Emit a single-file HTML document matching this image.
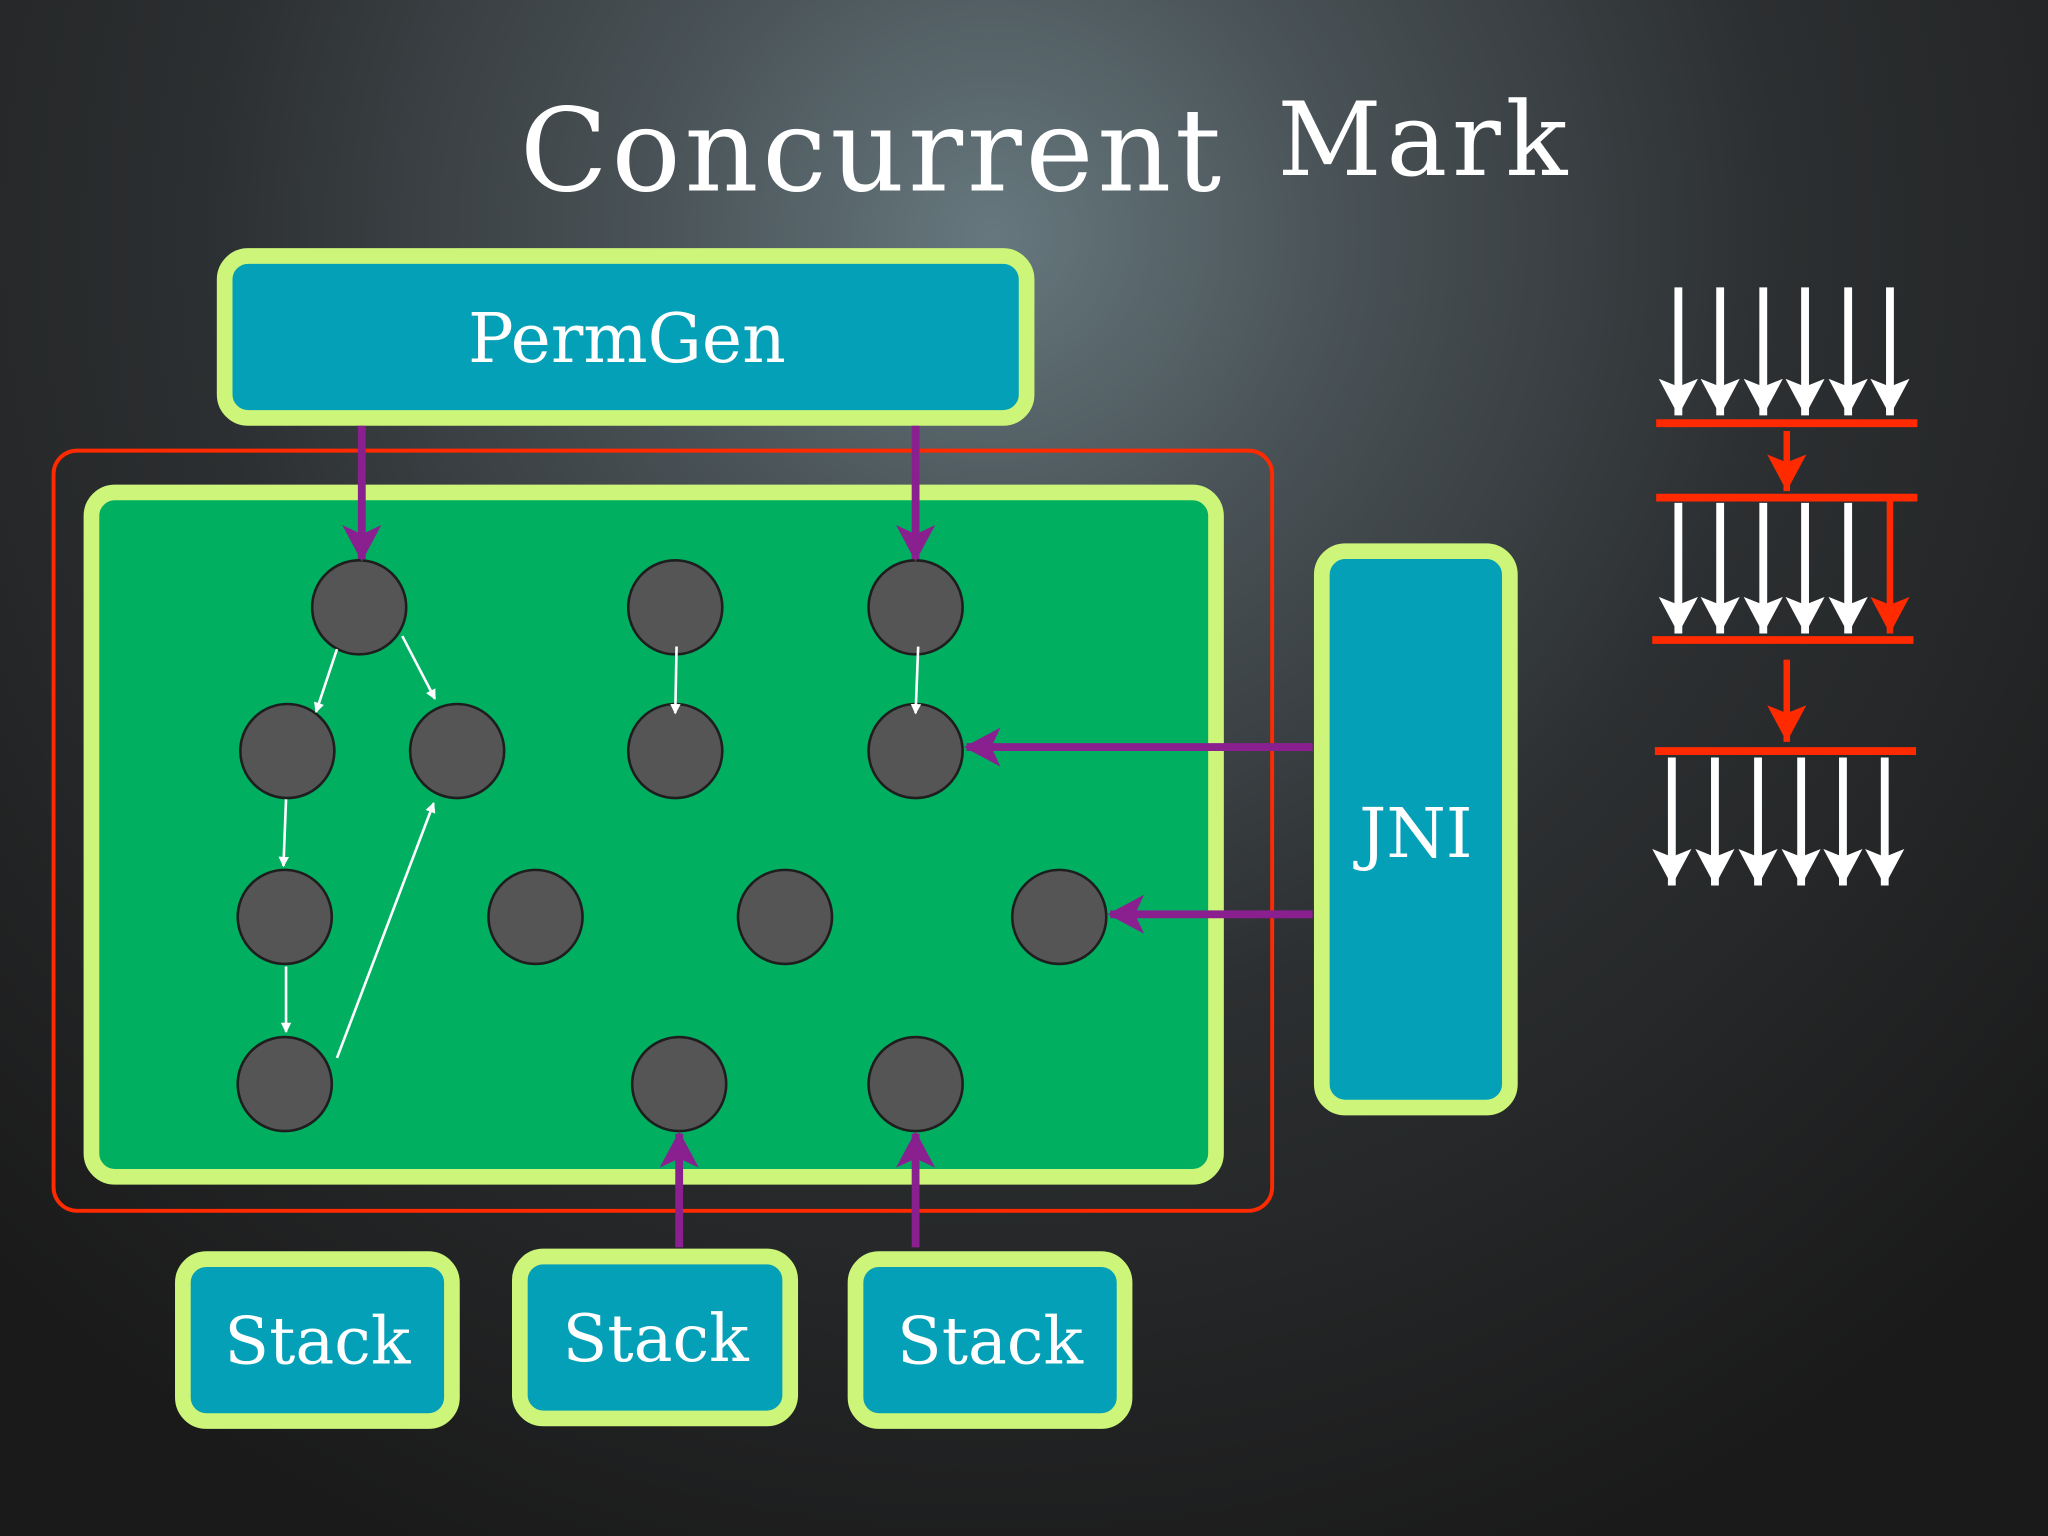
<!DOCTYPE html>
<html><head><meta charset="utf-8"><style>
html,body{margin:0;padding:0;background:#1a1a1a;}
svg{display:block;}
text{font-family:"DejaVu Serif","Liberation Serif",serif;}
</style></head><body>
<svg width="2048" height="1536" viewBox="0 0 1568 1176" xmlns="http://www.w3.org/2000/svg">
<defs>
<radialGradient id="bg" cx="760" cy="180" r="1100" gradientUnits="userSpaceOnUse">
<stop offset="0" stop-color="#66787e"/>
<stop offset="0.25" stop-color="#485155"/>
<stop offset="0.55" stop-color="#2c2f31"/>
<stop offset="1" stop-color="#1a1a1a"/>
</radialGradient>
<marker id="wa" markerWidth="8" markerHeight="8" refX="7" refY="4" orient="auto" markerUnits="userSpaceOnUse"><path d="M0,0 L8,4 L0,8 Z" fill="#fff"/></marker>
<marker id="pa" markerWidth="30" markerHeight="30" refX="26" refY="15" orient="auto" markerUnits="userSpaceOnUse"><path d="M0,0 L28,15 L0,30 L7,15 Z" fill="#8a2090"/></marker>
<marker id="wb" markerWidth="30" markerHeight="30" refX="28" refY="15" orient="auto" markerUnits="userSpaceOnUse"><path d="M0,0 L28,15 L0,30 L6,15 Z" fill="#fff"/></marker>
<marker id="ra" markerWidth="30" markerHeight="30" refX="28" refY="15" orient="auto" markerUnits="userSpaceOnUse"><path d="M0,0 L28,15 L0,30 L6,15 Z" fill="#ff2a00"/></marker>
</defs>
<rect width="1568" height="1176" fill="url(#bg)"/>
<text x="398" y="146" font-size="88" fill="#fff" textLength="537">Concurrent</text>
<text x="978" y="134" font-size="78" fill="#fff" textLength="222">Mark</text>

<rect x="41" y="345" width="933" height="582" rx="18" fill="none" stroke="#ff2a00" stroke-width="3"/>
<rect x="70" y="377" width="861" height="524" rx="18" fill="#00b060" stroke="#cdf57a" stroke-width="12"/>

<rect x="172" y="196" width="614" height="124" rx="18" fill="#04a0b8" stroke="#cdf57a" stroke-width="12"/>
<text x="480" y="277" font-size="52" fill="#fff" text-anchor="middle">PermGen</text>

<rect x="1012" y="422" width="144" height="426" rx="18" fill="#04a0b8" stroke="#cdf57a" stroke-width="12"/>
<text x="1084" y="656" font-size="52" fill="#fff" text-anchor="middle">JNI</text>

<g fill="#04a0b8" stroke="#cdf57a" stroke-width="12">
<rect x="140" y="964" width="206" height="124" rx="18"/>
<rect x="398" y="962" width="207" height="124" rx="18"/>
<rect x="655" y="964" width="206" height="124" rx="18"/>
</g>
<g font-size="50" fill="#fff" text-anchor="middle">
<text x="243" y="1044">Stack</text>
<text x="502" y="1042">Stack</text>
<text x="758" y="1044">Stack</text>
</g>

<g fill="#555" stroke="#1e1e1e" stroke-width="2">
<circle cx="275" cy="465" r="36"/><circle cx="517" cy="465" r="36"/><circle cx="701" cy="465" r="36"/>
<circle cx="220" cy="575" r="36"/><circle cx="350" cy="575" r="36"/><circle cx="517" cy="575" r="36"/><circle cx="701" cy="575" r="36"/>
<circle cx="218" cy="702" r="36"/><circle cx="410" cy="702" r="36"/><circle cx="601" cy="702" r="36"/><circle cx="811" cy="702" r="36"/>
<circle cx="218" cy="830" r="36"/><circle cx="520" cy="830" r="36"/><circle cx="701" cy="830" r="36"/>
</g>

<g stroke="#fff" stroke-width="2" marker-end="url(#wa)">
<line x1="258" y1="497" x2="242" y2="545"/>
<line x1="308" y1="487" x2="333" y2="535"/>
<line x1="219" y1="612" x2="217" y2="663"/>
<line x1="219" y1="740" x2="219" y2="790"/>
<line x1="258" y1="810" x2="332" y2="615"/>
<line x1="518" y1="495" x2="517" y2="546"/>
<line x1="703" y1="495" x2="701" y2="546"/>
</g>

<g stroke="#8a2090" stroke-width="6" marker-end="url(#pa)">
<line x1="277" y1="326" x2="277" y2="428"/>
<line x1="701" y1="326" x2="701" y2="428"/>
<line x1="1005" y1="572" x2="740" y2="572"/>
<line x1="1005" y1="700" x2="850" y2="700"/>
<line x1="520" y1="955" x2="520" y2="868"/>
<line x1="701" y1="955" x2="701" y2="868"/>
</g>

<g stroke="#fff" stroke-width="6" marker-end="url(#wb)">
<line x1="1285" y1="220" x2="1285" y2="318"/><line x1="1317" y1="220" x2="1317" y2="318"/><line x1="1350" y1="220" x2="1350" y2="318"/><line x1="1382" y1="220" x2="1382" y2="318"/><line x1="1415" y1="220" x2="1415" y2="318"/><line x1="1447" y1="220" x2="1447" y2="318"/>
<line x1="1285" y1="385" x2="1285" y2="485"/><line x1="1317" y1="385" x2="1317" y2="485"/><line x1="1350" y1="385" x2="1350" y2="485"/><line x1="1382" y1="385" x2="1382" y2="485"/><line x1="1415" y1="385" x2="1415" y2="485"/>
<line x1="1280" y1="580" x2="1280" y2="678"/><line x1="1313" y1="580" x2="1313" y2="678"/><line x1="1346" y1="580" x2="1346" y2="678"/><line x1="1379" y1="580" x2="1379" y2="678"/><line x1="1411" y1="580" x2="1411" y2="678"/><line x1="1443" y1="580" x2="1443" y2="678"/>
</g>
<g stroke="#ff2a00" stroke-width="6">
<line x1="1268" y1="324" x2="1468" y2="324"/>
<line x1="1268" y1="381" x2="1468" y2="381"/>
<line x1="1265" y1="490" x2="1465" y2="490"/>
<line x1="1267" y1="575" x2="1467" y2="575"/>
</g>
<g stroke="#ff2a00" stroke-width="5" marker-end="url(#ra)">
<line x1="1368" y1="330" x2="1368" y2="376"/>
<line x1="1368" y1="505" x2="1368" y2="568"/>
<line x1="1447" y1="383" x2="1447" y2="485"/>
</g>
</svg>
</body></html>
